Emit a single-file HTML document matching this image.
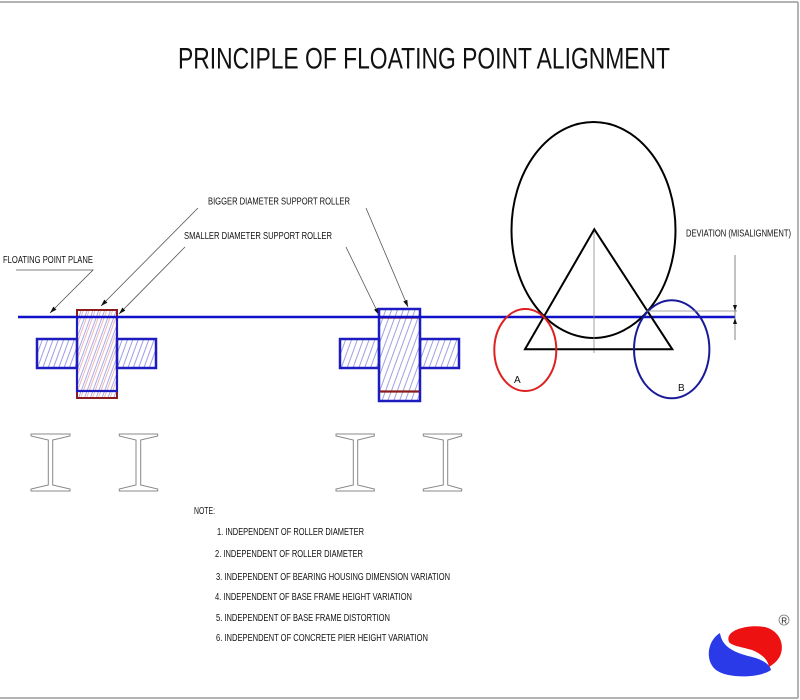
<!DOCTYPE html>
<html><head><meta charset="utf-8"><style>
html,body{margin:0;padding:0;background:#fff;}
svg{display:block;}
text{font-family:"Liberation Sans",Arial,sans-serif;fill:#111;}
</style></head><body>
<svg width="800" height="700" viewBox="0 0 800 700" xmlns="http://www.w3.org/2000/svg">
<defs>
<pattern id="hmix" patternUnits="userSpaceOnUse" width="5.5" height="10" patternTransform="rotate(20)">
<line x1="1" y1="0" x2="1" y2="10" stroke="#7070e0" stroke-width="0.6"/>
<line x1="3" y1="0" x2="3" y2="10" stroke="#e08a8a" stroke-width="0.6"/>
</pattern>
<pattern id="hblue" patternUnits="userSpaceOnUse" width="5" height="10" patternTransform="rotate(20)">
<line x1="1" y1="0" x2="1" y2="10" stroke="#5a5ad8" stroke-width="0.6"/>
</pattern>
<pattern id="hblue2" patternUnits="userSpaceOnUse" width="5.5" height="10" patternTransform="rotate(20)">
<line x1="1" y1="0" x2="1" y2="10" stroke="#6060d0" stroke-width="0.6"/>
</pattern>
<marker id="ar" markerWidth="8" markerHeight="6" refX="7" refY="3" orient="auto" markerUnits="userSpaceOnUse">
<path d="M0,0.8 L7,3 L0,5.2 Z" fill="#111"/>
</marker>
</defs>

<!-- border -->
<line x1="0" y1="2" x2="798" y2="2" stroke="#9a9a9a" stroke-width="1.5"/>
<line x1="798" y1="2" x2="798" y2="698" stroke="#9a9a9a" stroke-width="1.5"/>
<line x1="0" y1="698" x2="798" y2="698" stroke="#9a9a9a" stroke-width="1.5"/>

<!-- title -->
<text x="178" y="68.5" font-size="30" textLength="492" lengthAdjust="spacingAndGlyphs">PRINCIPLE OF FLOATING POINT ALIGNMENT</text>

<!-- labels -->
<text x="208" y="204.5" font-size="10" textLength="142" lengthAdjust="spacingAndGlyphs">BIGGER DIAMETER SUPPORT ROLLER</text>
<text x="184" y="239" font-size="10" textLength="148" lengthAdjust="spacingAndGlyphs">SMALLER DIAMETER SUPPORT ROLLER</text>
<text x="3" y="263" font-size="10" textLength="90" lengthAdjust="spacingAndGlyphs">FLOATING POINT PLANE</text>
<text x="686" y="236.5" font-size="10" textLength="105" lengthAdjust="spacingAndGlyphs">DEVIATION (MISALIGNMENT)</text>

<!-- leaders -->
<g stroke="#555" stroke-width="0.8" fill="none">
<polyline points="16,270 93,270 50,313" marker-end="url(#ar)"/>
<line x1="198" y1="208" x2="101" y2="306" marker-end="url(#ar)"/>
<line x1="185" y1="247" x2="119" y2="314" marker-end="url(#ar)"/>
<line x1="366" y1="208" x2="408" y2="307" marker-end="url(#ar)"/>
<line x1="346" y1="247" x2="379" y2="315" marker-end="url(#ar)"/>
</g>

<!-- left assembly -->
<rect x="37" y="339" width="40" height="29" fill="url(#hblue)" stroke="#1c1cc0" stroke-width="2.5"/>
<rect x="117" y="339" width="39" height="29" fill="url(#hblue)" stroke="#1c1cc0" stroke-width="2.5"/>
<rect x="77" y="310" width="40" height="88" fill="url(#hmix)" stroke="#8b1c1c" stroke-width="2"/>
<polyline points="77,316 77,391 117,391 117,316" fill="none" stroke="#1c1cc0" stroke-width="2.2"/>

<!-- right assembly -->
<rect x="340" y="339" width="39" height="29" fill="url(#hblue2)" stroke="#1c1cc0" stroke-width="2.5"/>
<rect x="420" y="339" width="39" height="29" fill="url(#hblue2)" stroke="#1c1cc0" stroke-width="2.5"/>
<rect x="379" y="309" width="41" height="92" fill="url(#hblue2)" stroke="#1c1cc0" stroke-width="2.5"/>
<line x1="380" y1="317.5" x2="419" y2="317.5" stroke="#8b1c1c" stroke-width="2.2"/>
<line x1="380" y1="391.5" x2="419" y2="391.5" stroke="#8b1c1c" stroke-width="2.2"/>

<!-- floating plane line -->
<line x1="18" y1="317" x2="735" y2="317" stroke="#1010c8" stroke-width="2.6"/>

<!-- big roller geometry -->
<ellipse cx="593.5" cy="230" rx="82" ry="108" fill="none" stroke="#000" stroke-width="2"/>
<line x1="594" y1="229" x2="594" y2="353" stroke="#888" stroke-width="0.8"/>
<polygon points="594.3,229.3 525,349.3 672.3,349.3" fill="none" stroke="#000" stroke-width="2"/>
<ellipse cx="525.3" cy="350" rx="31" ry="41" fill="none" stroke="#dd2020" stroke-width="2"/>
<ellipse cx="671.7" cy="349.3" rx="37.7" ry="49" fill="none" stroke="#1a1a99" stroke-width="2"/>
<text x="514" y="383" font-size="10">A</text>
<text x="678" y="391" font-size="10">B</text>

<!-- deviation dimension -->
<line x1="646" y1="311" x2="737" y2="311" stroke="#888" stroke-width="0.8"/>
<line x1="735" y1="255" x2="735" y2="340" stroke="#666" stroke-width="0.8"/>
<path d="M733,305 L735,311 L737,305 Z" fill="#111"/>
<path d="M733,324 L735,318 L737,324 Z" fill="#111"/>

<!-- I-beams -->
<g fill="none" stroke="#888" stroke-width="1">
<path d="M31,434 L70,434 L70,436 L52.7,440 L52.7,485 L70,489 L70,491 L31,491 L31,489 L48.3,485 L48.3,440 L31,436 Z"/>
<path d="M119.3,434 L157.7,434 L157.7,436 L140.7,440 L140.7,485 L157.7,489 L157.7,491 L119.3,491 L119.3,489 L136,485 L136,440 L119.3,436 Z"/>
<path d="M336,434 L374.3,434 L374.3,436 L357.7,440 L357.7,485 L374.3,489 L374.3,491 L336,491 L336,489 L353.3,485 L353.3,440 L336,436 Z"/>
<path d="M423.3,434 L461.7,434 L461.7,436 L447.7,440 L447.7,485 L461.7,489 L461.7,491 L423.3,491 L423.3,489 L443.3,485 L443.3,440 L423.3,436 Z"/>
</g>

<!-- notes -->
<text x="194" y="514" font-size="10" textLength="21" lengthAdjust="spacingAndGlyphs">NOTE:</text>
<text x="217" y="535" font-size="10" textLength="147" lengthAdjust="spacingAndGlyphs">1. INDEPENDENT OF ROLLER DIAMETER</text>
<text x="215" y="557" font-size="10" textLength="148" lengthAdjust="spacingAndGlyphs">2. INDEPENDENT OF ROLLER DIAMETER</text>
<text x="216" y="580" font-size="10" textLength="234" lengthAdjust="spacingAndGlyphs">3. INDEPENDENT OF BEARING HOUSING DIMENSION VARIATION</text>
<text x="215" y="600" font-size="10" textLength="197" lengthAdjust="spacingAndGlyphs">4. INDEPENDENT OF BASE FRAME HEIGHT VARIATION</text>
<text x="216" y="621" font-size="10" textLength="174" lengthAdjust="spacingAndGlyphs">5. INDEPENDENT OF BASE FRAME DISTORTION</text>
<text x="216" y="641" font-size="10" textLength="212" lengthAdjust="spacingAndGlyphs">6. INDEPENDENT OF CONCRETE PIER HEIGHT VARIATION</text>

<!-- logo -->
<path d="M729,642 C724,630 748,624 765,627 C780,631 785,645 780,656 C777,662 772,665 769,667 C768,660 762,654 752,650 C742,647 732,646 729,642 Z" fill="#ee1111"/>
<path d="M720,633 C708,640 704,660 716,670 C728,679 760,678 771,670 C770,664 762,659 748,656 C734,652 722,647 720,633 Z" fill="#2a3ae8"/>
<circle cx="784" cy="620" r="5" fill="none" stroke="#777" stroke-width="0.8"/>
<text x="781.2" y="623.5" font-size="8" fill="#333">R</text>
</svg>
</body></html>
